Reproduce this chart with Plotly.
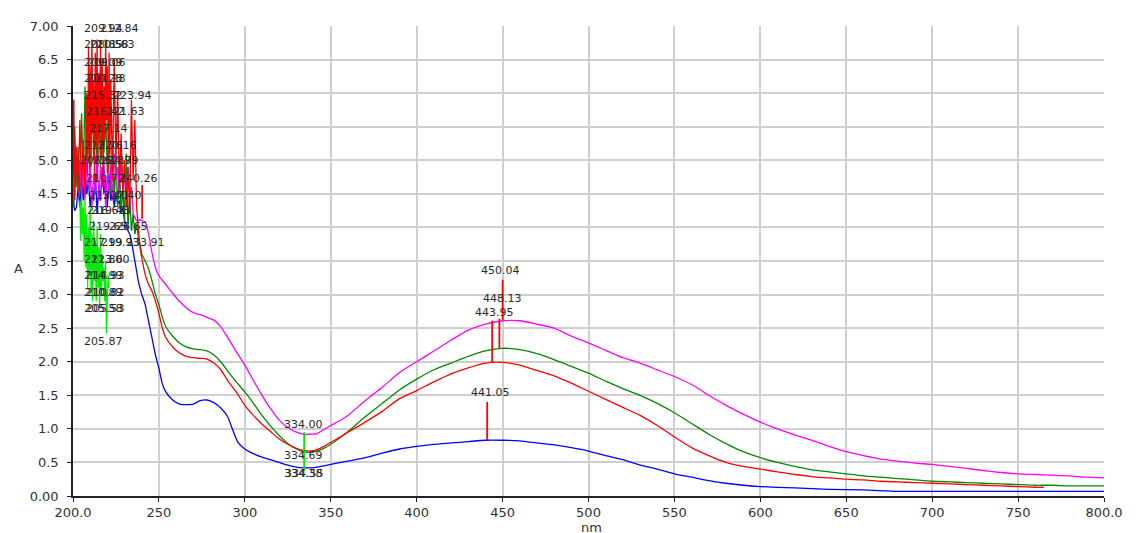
import plotly.graph_objects as go

# ---------------- data ----------------
mag_x = [200,201,202,203,204,205,206,207,208,209,210,211,212,213,214,215,216,217,218,219,
         220,221,222,223,224,225,226,227,228,229,230,231,232,233,234,235,236,237,238,239,240,
         242,244,246,248,250,254,258,262,266,270,274,278,282,286,290,
         295,300,305,310,315,320,325,330,334,338,342,346,350,355,360,
         370,380,390,400,410,420,430,440,450,460,470,480,490,500,510,520,530,540,550,560,
         570,580,590,600,610,620,630,640,650,660,670,680,690,700,710,720,730,740,750,760,
         770,780,790,800]
mag_y = [4.4,5.1,5.15,4.7,5.0,4.5,4.9,4.4,5.0,4.6,4.9,4.3,4.8,4.5,5.1,4.4,4.9,4.6,5.0,4.3,
         4.8,4.5,4.9,4.4,5.1,4.7,4.9,4.5,5.0,4.6,4.8,4.4,4.9,4.5,4.6,4.2,4.15,4.1,4.1,4.12,4.1,
         4.08,3.9,3.62,3.4,3.28,3.15,3.02,2.9,2.8,2.73,2.7,2.66,2.62,2.52,2.36,
         2.15,1.95,1.72,1.5,1.3,1.13,1.02,0.95,0.92,0.92,0.93,0.99,1.05,1.12,1.2,
         1.42,1.62,1.84,2.0,2.16,2.32,2.47,2.56,2.61,2.61,2.56,2.5,2.38,2.28,2.17,2.06,1.98,1.88,1.78,1.66,
         1.5,1.35,1.22,1.1,1.0,0.91,0.83,0.74,0.66,0.6,0.55,0.52,0.49,0.47,0.44,0.41,0.38,0.35,0.33,0.32,
         0.31,0.3,0.28,0.27]

grn_x = [200,200.5,201,202,203,204,205,206,207,208,209,210,211,212,213,214,215,216,217,218,219,
         220,221,222,223,224,225,226,227,228,229,230,231,232,233,234,235,236,237,238,239,240,
         242,244,246,248,250,252,254,258,262,266,270,274,278,282,286,290,
         295,300,305,310,315,320,325,330,334,338,342,346,350,355,360,
         370,380,390,400,410,420,430,440,450,460,470,480,490,500,510,520,530,540,550,560,
         570,580,590,600,610,620,630,640,650,660,670,680,690,700,710,720,730,740,750,760,
         770,780,790,800]
grn_y = [5.9,4.3,5.5,4.6,5.2,4.5,5.7,4.7,6.1,4.9,5.6,4.6,6.3,5.0,6.0,4.7,5.8,4.9,6.4,5.1,5.7,
         4.8,5.5,4.5,5.3,4.4,5.0,4.3,4.9,4.2,4.6,4.1,5.1,4.0,4.5,3.95,4.2,3.9,4.05,3.85,3.75,3.6,
         3.5,3.38,3.2,3.0,2.85,2.66,2.52,2.38,2.28,2.22,2.19,2.18,2.16,2.1,2.0,1.86,
         1.7,1.55,1.38,1.2,1.04,0.9,0.78,0.7,0.66,0.65,0.67,0.71,0.77,0.86,0.96,
         1.18,1.38,1.58,1.74,1.88,1.98,2.08,2.16,2.2,2.18,2.12,2.03,1.93,1.83,1.71,1.6,1.5,1.38,1.24,1.08,
         0.92,0.78,0.66,0.57,0.5,0.44,0.39,0.36,0.33,0.3,0.28,0.26,0.24,0.22,0.21,0.2,0.19,0.18,0.17,0.16,
         0.16,0.15,0.15,0.15]

red_x = [200,200.5,201,202,203,204,205,206,207,208,208.5,209,209.5,210,210.5,211,211.5,212,212.5,213,
         213.5,214,214.5,215,215.5,216,216.5,217,217.5,218,218.5,219,219.5,220,220.5,221,221.5,222,
         223,224,225,226,227,228,229,230,231,232,233,234,235,236,237,238,239,240,
         242,244,246,248,250,252,254,258,262,266,270,274,278,282,286,290,
         295,300,305,310,315,320,325,330,334,338,342,346,350,355,360,
         370,380,390,400,410,420,430,440,450,460,470,480,490,500,510,520,530,540,550,560,
         570,580,590,600,610,620,630,640,650,660,670,680,690,700,710,720,730,740,750,760,765]
red_y = [4.8,5.9,4.4,5.2,4.5,5.6,4.6,5.3,4.5,6.0,4.8,6.7,5.0,6.4,4.9,6.8,5.4,6.2,4.7,6.6,
         5.2,6.8,4.9,6.3,5.5,6.7,5.0,6.5,4.6,6.1,5.3,6.8,5.6,6.4,4.8,6.6,5.1,6.2,
         4.7,6.5,5.0,6.0,4.6,5.4,4.5,5.0,4.3,4.9,4.2,5.9,4.7,5.6,4.3,4.0,3.7,3.55,
         3.3,3.15,3.05,2.9,2.72,2.5,2.36,2.22,2.13,2.08,2.06,2.05,2.04,1.98,1.88,1.72,
         1.55,1.35,1.2,1.07,0.96,0.85,0.77,0.71,0.68,0.67,0.69,0.74,0.8,0.87,0.95,
         1.1,1.26,1.45,1.57,1.7,1.82,1.91,1.98,1.99,1.95,1.87,1.79,1.68,1.56,1.44,1.32,1.2,1.05,0.88,0.72,
         0.6,0.5,0.44,0.4,0.36,0.32,0.29,0.27,0.25,0.24,0.22,0.21,0.2,0.19,0.18,0.17,0.16,0.15,0.14,0.13,0.13]

blu_x = [200,201,202,203,204,205,206,207,208,209,210,211,212,213,214,215,216,217,218,219,
         220,221,222,223,224,225,226,227,228,229,230,231,232,233,234,235,236,
         238,240,242,244,246,248,250,252,254,
         258,262,266,270,274,278,282,286,290,293,296,
         300,305,310,315,320,325,330,334,338,342,346,350,
         360,370,380,390,400,410,420,430,440,450,460,470,480,490,500,510,520,530,540,550,
         560,570,580,590,600,620,640,660,680,700,750,800]
blu_y = [4.4,4.25,4.3,4.6,4.3,4.8,4.4,4.9,4.5,4.7,4.3,4.6,4.4,4.8,4.2,4.6,4.4,4.9,4.5,4.7,
         4.3,4.8,4.4,4.6,4.3,4.5,4.35,4.4,4.2,4.3,4.1,4.05,3.95,3.9,3.8,3.65,3.5,
         3.2,3.0,2.85,2.6,2.35,2.1,1.9,1.67,1.55,
         1.43,1.37,1.36,1.37,1.42,1.43,1.39,1.31,1.18,0.98,0.8,
         0.7,0.63,0.58,0.54,0.5,0.46,0.43,0.42,0.42,0.43,0.45,0.47,
         0.52,0.57,0.64,0.7,0.74,0.77,0.79,0.81,0.83,0.83,0.82,0.79,0.76,0.72,0.67,0.6,0.54,0.46,0.4,0.33,
         0.28,0.23,0.19,0.16,0.14,0.12,0.1,0.09,0.07,0.07,0.07,0.07]

lime_x = [204,204.5,205,205.5,206,206.5,207,207.5,208,208.5,209,209.5,210,210.5,211,211.5,
          212,212.5,213,213.5,214,214.5,215,215.5,216,216.5,217,217.5,218,218.5,219,219.5,
          220,220.5,221]
lime_y = [4.4,3.8,4.5,3.9,4.3,3.5,4.4,3.4,4.2,3.1,4.0,3.3,4.3,3.0,3.9,2.9,
          4.1,3.2,3.8,2.9,4.0,3.1,3.7,2.8,3.9,3.0,3.6,3.2,3.4,2.9,3.5,2.42,
          3.0,3.3,3.1]

# pick markers (wavelength, top, bottom)
pick_x = [450.04, 448.13, 443.95, 441.05, 240.26, 334.5]
pick_top = [3.22, 2.64, 2.61, 1.40, 4.63, 0.95]
pick_bot = [2.62, 2.20, 1.99, 0.83, 4.13, 0.38]
pick_col = ["#ff0000", "#ff0000", "#ff0000", "#ff0000", "#ff0000", "#00ee00"]

# pick labels: text, x (nm), y (A)
lab_text = ["209.94","212.84","208.85","210.58","211.63","209.09","209.06","210.28","211.28",
            "215.32","223.94","216.42","221.63","217.14","213.76","220.16",
            "206.62","219.37","224.99","210.72","240.26","213.40","227.40",
            "216.63","219.43","219.65","226.65","217.99","219.93","233.91",
            "212.80","213.60","214.99","214.93","210.89","210.82","205.58","205.53","205.87",
            "334.00","334.69","334.38","334.55",
            "450.04","448.13","443.95","441.05"]
lab_x = [205.8,215.1,205.8,209.3,212.8,205.8,207.6,205.8,207.6,
         205.8,222.7,207.0,218.6,208.7,205.8,214.0,
         203.5,211.1,215.1,207.0,226.2,208.7,216.9,
         207.6,209.9,208.7,220.4,205.8,215.7,230.3,
         205.8,209.9,205.8,207.0,205.8,207.0,205.8,207.0,205.8,
         322.2,322.2,322.2,322.8,
         436.9,438.1,433.4,431.1]
lab_y = [6.97,6.97,6.72,6.72,6.72,6.46,6.46,6.22,6.22,
         5.97,5.97,5.73,5.73,5.48,5.22,5.22,
         5.0,5.0,5.0,4.73,4.73,4.48,4.48,
         4.25,4.25,4.01,4.01,3.78,3.78,3.78,
         3.52,3.52,3.28,3.28,3.03,3.03,2.79,2.79,2.30,
         1.07,0.6,0.34,0.34,
         3.36,2.94,2.73,1.54]

x_ticks = [200,250,300,350,400,450,500,550,600,650,700,750,800]
x_ticktext = ["200.0","250","300","350","400","450","500","550","600","650","700","750","800.0"]
y_ticks = [0,0.5,1,1.5,2,2.5,3,3.5,4,4.5,5,5.5,6,6.5,7]
y_ticktext = ["0.00","0.5","1.0","1.5","2.0","2.5","3.0","3.5","4.0","4.5","5.0","5.5","6.0","6.5","7.00"]

NOISE_END = 240

# ---------------- figure ----------------
fig = go.Figure()


def add_series(xs, ys, col):
    nx = [x for x in xs if x <= NOISE_END]
    ny = ys[:len(nx)]
    sx = xs[len(nx) - 1:]
    sy = ys[len(nx) - 1:]
    fig.add_trace(go.Scatter(x=nx, y=ny, mode="lines", line=dict(color=col, width=1.3),
                             showlegend=False, hoverinfo="skip"))
    if len(sx) > 1:
        fig.add_trace(go.Scatter(x=sx, y=sy, mode="lines",
                                 line=dict(color=col, width=1.3, shape="spline", smoothing=0.6),
                                 showlegend=False, hoverinfo="skip"))


add_series(blu_x, blu_y, "#0000ff")
add_series(grn_x, grn_y, "#008a00")
add_series(lime_x, lime_y, "#00ee00")
add_series(mag_x, mag_y, "#ff00ff")
add_series(red_x, red_y, "#ff0000")

for px, t, b, c in zip(pick_x, pick_top, pick_bot, pick_col):
    fig.add_trace(go.Scatter(x=[px, px], y=[t, b], mode="lines", line=dict(color=c, width=1.8),
                             showlegend=False, hoverinfo="skip"))

lab_font = dict(family="DejaVu Sans", size=11, color="#2a2a2a")
for t, x, y in zip(lab_text, lab_x, lab_y):
    fig.add_annotation(x=x, y=y, text=t, showarrow=False, xanchor="left", yanchor="middle",
                       font=lab_font, borderpad=0)

fig.add_annotation(xref="paper", yref="paper", x=-0.059, y=0.485, text="A", showarrow=False,
                   font=dict(family="DejaVu Sans", size=13, color="#333"))
fig.add_annotation(xref="paper", yref="paper", x=0.503, y=-0.068, text="nm", showarrow=False,
                   yanchor="middle", font=dict(family="DejaVu Sans", size=13, color="#333"))

axis_common = dict(showgrid=True, gridcolor="#cfcfcf", gridwidth=1.5, showline=True,
                   linecolor="#222", linewidth=1.5, ticks="outside", ticklen=4,
                   tickcolor="#222", zeroline=False,
                   tickfont=dict(family="DejaVu Sans", size=13, color="#333"))
fig.update_xaxes(range=[200, 800], tickvals=x_ticks, ticktext=x_ticktext, **axis_common)
fig.update_yaxes(range=[0, 7], tickvals=y_ticks, ticktext=y_ticktext, ticklabelstandoff=6,
                 **axis_common)

# page body has an 8px margin, so the figure is 8px smaller and margins shifted
fig.update_layout(width=1132, height=525, margin=dict(l=65, r=36, t=18, b=37),
                  plot_bgcolor="white", paper_bgcolor="white")

fig.write_html("out.html")
